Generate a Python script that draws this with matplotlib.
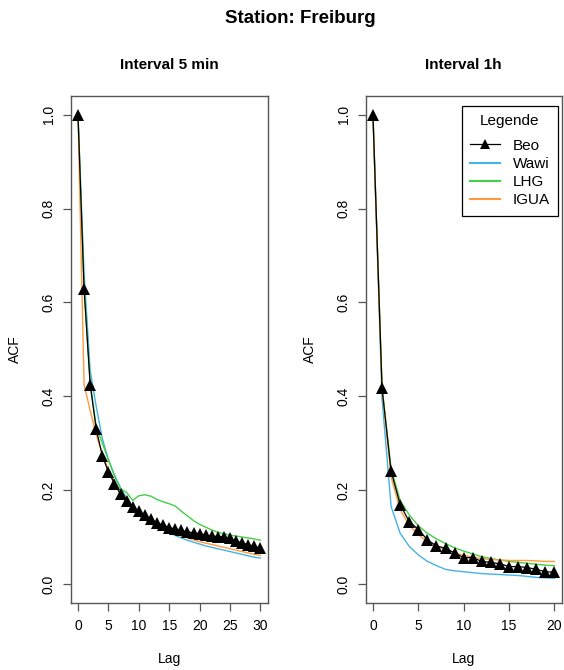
import matplotlib
matplotlib.use("Agg")
import matplotlib.pyplot as plt
from matplotlib.lines import Line2D

plt.rcParams['font.family'] = ['Liberation Sans', 'DejaVu Sans']
plt.rcParams['font.size'] = 10

# autocorrelation per lag, 5 minute interval
lags_5min = list(range(31))
beo_5min = [1.0, 0.628, 0.425, 0.330, 0.273, 0.239, 0.214, 0.192, 0.176, 0.164,
            0.155, 0.147, 0.138, 0.130, 0.125, 0.120, 0.117, 0.114, 0.111, 0.109,
            0.107, 0.104, 0.102, 0.101, 0.100, 0.097, 0.091, 0.087, 0.084, 0.080, 0.076]
wawi_5min = [1.0, 0.662, 0.455, 0.378, 0.310, 0.265, 0.232, 0.205, 0.183, 0.165,
             0.150, 0.139, 0.129, 0.121, 0.115, 0.109, 0.103, 0.098, 0.093, 0.089,
             0.085, 0.081, 0.078, 0.075, 0.072, 0.069, 0.066, 0.063, 0.060, 0.057, 0.055]
lhg_5min = [1.0, 0.635, 0.430, 0.335, 0.300, 0.265, 0.230, 0.203, 0.195, 0.178,
            0.188, 0.190, 0.187, 0.180, 0.175, 0.171, 0.166, 0.155, 0.145, 0.135,
            0.127, 0.121, 0.115, 0.110, 0.107, 0.104, 0.102, 0.100, 0.098, 0.096, 0.093]
igua_5min = [1.0, 0.425, 0.370, 0.318, 0.278, 0.243, 0.213, 0.190, 0.172, 0.158,
             0.146, 0.136, 0.128, 0.121, 0.115, 0.110, 0.106, 0.102, 0.098, 0.094,
             0.090, 0.087, 0.084, 0.081, 0.078, 0.075, 0.072, 0.069, 0.066, 0.063, 0.061]

# autocorrelation per lag, 1 hour interval
lags_1h = list(range(21))
beo_1h = [1.0, 0.417, 0.240, 0.169, 0.133, 0.116, 0.094, 0.081, 0.076, 0.066,
          0.056, 0.056, 0.048, 0.046, 0.043, 0.037, 0.037, 0.035, 0.031, 0.026, 0.025]
wawi_1h = [1.0, 0.395, 0.165, 0.108, 0.080, 0.062, 0.048, 0.039, 0.031, 0.028,
           0.026, 0.024, 0.022, 0.021, 0.020, 0.019, 0.018, 0.016, 0.014, 0.013, 0.012]
lhg_1h = [1.0, 0.420, 0.245, 0.178, 0.147, 0.124, 0.108, 0.096, 0.086, 0.077,
          0.070, 0.064, 0.058, 0.054, 0.051, 0.048, 0.046, 0.044, 0.042, 0.040, 0.039]
igua_1h = [1.0, 0.420, 0.228, 0.158, 0.125, 0.105, 0.090, 0.080, 0.072, 0.066,
           0.061, 0.057, 0.054, 0.052, 0.051, 0.050, 0.050, 0.050, 0.049, 0.048, 0.048]

series_names = ['Beo', 'Wawi', 'LHG', 'IGUA']
col_wawi = '#45B2E6'
col_lhg = '#45CF45'
col_igua = '#FF9A3C'
frame_col = '#555555'

W, H = 564, 670
fig = plt.figure(figsize=(W / 100, H / 100), dpi=100)

def px_axes(x0, x1, y0, y1):
    return fig.add_axes([x0 / W, 1 - y1 / H, (x1 - x0) / W, (y1 - y0) / H])

def acf_panel(ax, lags, beo, wawi, lhg, igua, xticks):
    ax.plot(lags, wawi, color=col_wawi, lw=1.0)
    ax.plot(lags, lhg, color=col_lhg, lw=1.0)
    ax.plot(lags, igua, color=col_igua, lw=1.0)
    ax.plot(lags, beo, color='black', lw=0.9, marker='^', ms=8.5,
            markeredgewidth=0)
    span = lags[-1] - lags[0]
    ax.set_xlim(lags[0] - 0.04 * span, lags[-1] + 0.04 * span)
    ax.set_ylim(-0.04, 1.04)
    ax.set_xticks(xticks)
    ax.set_yticks([0.0, 0.2, 0.4, 0.6, 0.8, 1.0])
    ax.set_yticklabels(['0.0', '0.2', '0.4', '0.6', '0.8', '1.0'])
    ax.tick_params(length=5.6, width=0.9, color=frame_col, labelsize=10)
    ax.tick_params(axis='x', pad=6)
    ax.tick_params(axis='y', pad=5, labelrotation=90)
    for lab in ax.get_yticklabels():
        lab.set_va('center')
    for s in ax.spines.values():
        s.set_color(frame_col)
        s.set_linewidth(1.0)

ax1 = px_axes(70.7, 267.7, 96, 602.7)
acf_panel(ax1, lags_5min, beo_5min, wawi_5min, lhg_5min, igua_5min,
          [0, 5, 10, 15, 20, 25, 30])
ax2 = px_axes(365.7, 561.7, 96, 602.7)
acf_panel(ax2, lags_1h, beo_1h, wawi_1h, lhg_1h, igua_1h,
          [0, 5, 10, 15, 20])

# titles and axis labels
fig.text(300.5 / W, 1 - 18.5 / H, 'Station: Freiburg', ha='center', va='center',
         fontsize=13.5, fontweight='bold')
for cx, t in [(169.2, 'Interval 5 min'), (463.7, 'Interval 1h')]:
    fig.text(cx / W, 1 - 65 / H, t, ha='center', va='center',
             fontsize=11, fontweight='bold')
    fig.text(cx / W, 1 - 659 / H, 'Lag', ha='center', va='center', fontsize=10)
for cx in [15, 310]:
    fig.text(cx / W, 1 - 349.3 / H, 'ACF', ha='center', va='center',
             rotation=90, fontsize=10)

handles = [
    Line2D([], [], color='black', lw=0.9, marker='^', ms=7, markeredgewidth=0),
    Line2D([], [], color=col_wawi, lw=1.5),
    Line2D([], [], color=col_lhg, lw=1.5),
    Line2D([], [], color=col_igua, lw=1.5),
]
leg = ax2.legend(handles, series_names, title='Legende', loc='upper right',
                 bbox_to_anchor=(0.9827, 0.9803), borderaxespad=0,
                 fancybox=False, framealpha=1, edgecolor='black',
                 fontsize=11, title_fontsize=11, handlelength=1.95,
                 handletextpad=0.85, labelspacing=0.27, borderpad=0.55)
leg.get_frame().set_linewidth(0.9)
# a bit more room between the legend title and the entries
leg._legend_box.sep += 4.5

fig.savefig('out.png', dpi=100)
